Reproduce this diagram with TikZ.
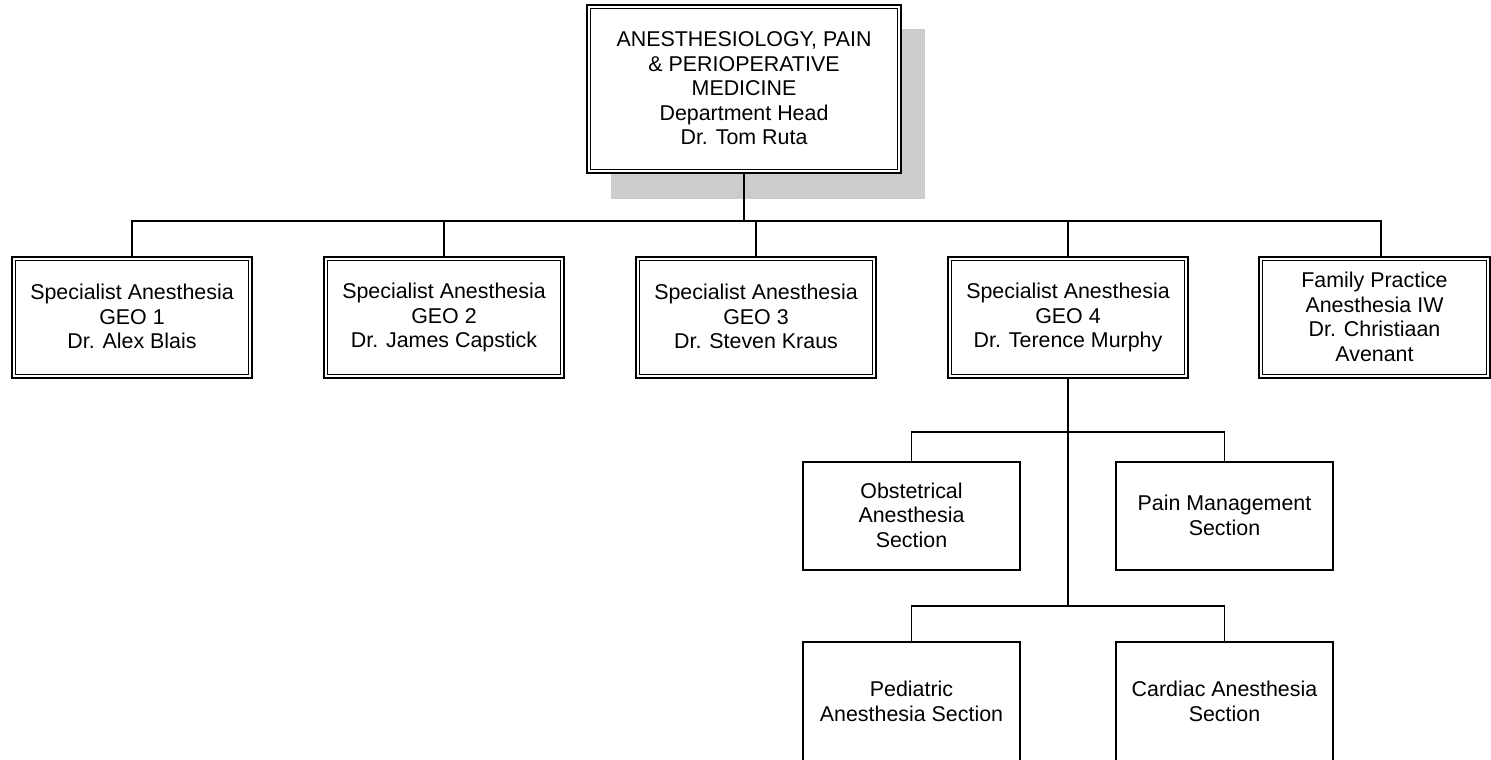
\documentclass[tikz,border=0pt]{standalone}
\usepackage{fontspec}
\setmainfont{Liberation Sans}
\newcommand\lnstrut{\rule[-1.75pt]{0pt}{24.5pt}}
\begin{document}
\begin{tikzpicture}[x=1pt,y=-1pt,
  txt/.style={font=\fontsize{21.4}{24.5}\selectfont, align=center, inner sep=0pt,
    execute at begin node=\lnstrut, execute at end node=\lnstrut},
  dbox/.style={txt, draw=black, line width=2.2pt, minimum width=240pt, minimum height=121pt},
  sbox/.style={txt, draw=black, line width=1.8pt, minimum width=217pt, minimum height=108pt},
  conn/.style={draw=black, line width=1.6pt},
  innerline/.style={draw=black, line width=1.1pt}]
\useasboundingbox (0,0) rectangle (1491,760);
% shadow
\fill[black!20] (611,29) rectangle (925,199);
% top
\node[dbox, fill=white, minimum width=314pt, minimum height=168pt] (top) at (744,89)
  {ANESTHESIOLOGY, PAIN\\ \& PERIOPERATIVE\\ MEDICINE\\ Department Head\\ Dr. Tom Ruta};
% level 1
\node[dbox] (g1) at (132,317.5) {Specialist Anesthesia\\ GEO 1\\ Dr. Alex Blais};
\node[dbox] (g2) at (444,317.5) {Specialist Anesthesia\\ GEO 2\\ Dr. James Capstick};
\node[dbox] (g3) at (756,317.5) {Specialist Anesthesia\\ GEO 3\\ Dr. Steven Kraus};
\node[dbox] (g4) at (1068,317.5) {Specialist Anesthesia\\ GEO 4\\ Dr. Terence Murphy};
\node[dbox, minimum width=231pt] (fam) at (1374.5,317.5) {Family Practice\\ Anesthesia IW\\ Dr. Christiaan\\ Avenant};
% inner borders
\foreach \n in {top,g1,g2,g3,g4,fam}{
  \draw[innerline] ([shift={(4.5,4.5)}]\n.north west) rectangle ([shift={(-4.5,-4.5)}]\n.south east);
}
% level 2
\node[sbox] (ob) at (911.5,516) {Obstetrical\\ Anesthesia\\ Section};
\node[sbox] (pm) at (1224.5,516) {Pain Management\\ Section};
\node[sbox, minimum height=120pt] (ped) at (911.5,702) {Pediatric\\ Anesthesia Section};
\node[sbox, minimum height=120pt] (card) at (1224.5,702) {Cardiac Anesthesia\\ Section};
% connectors
\coordinate (bus) at (744,221);
\coordinate (famtop) at (1381,257);
\coordinate (j1) at (1068,432);
\coordinate (j2) at (1068,606);
\draw[conn] (top.south) -- (bus);
\foreach \c in {g1,g2,g3,g4}{ \draw[conn] (bus) -| (\c.north); }
\draw[conn] (bus) -| (famtop);
\draw[conn] (g4.south) -- (j2);
\draw[conn] (j1) -| (ob.north);
\draw[conn] (j1) -| (pm.north);
\draw[conn] (j2) -| (ped.north);
\draw[conn] (j2) -| (card.north);
\end{tikzpicture}
\end{document}
